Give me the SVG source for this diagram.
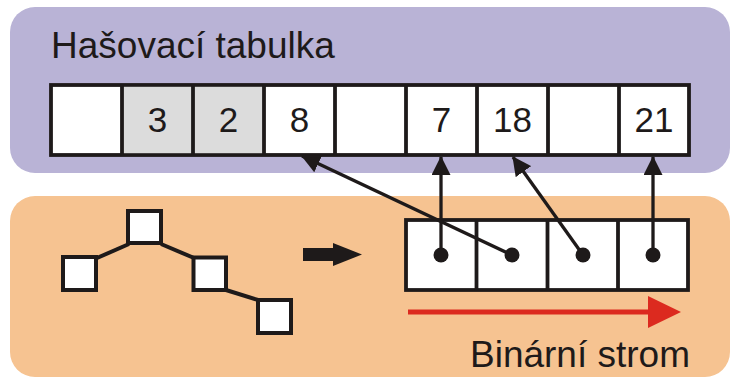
<svg xmlns="http://www.w3.org/2000/svg" width="732" height="378" viewBox="0 0 732 378">
<style>
.cell{fill:#ffffff;stroke:#1e1a1a;stroke-width:3.8}
.gray{fill:#dcdcdc}
.div{stroke:#1e1a1a;stroke-width:3.8}
.num{font-family:"Liberation Sans",Arial,sans-serif;font-size:35px;fill:#1e1a1a;text-anchor:middle}
.title{font-family:"Liberation Sans",Arial,sans-serif;font-size:37px;fill:#1e1a1a}
.tn{fill:#ffffff;stroke:#1e1a1a;stroke-width:4}
.te{stroke:#1e1a1a;stroke-width:4}
.conn{stroke:#1e1a1a;stroke-width:3.3;fill:none}
.dot{fill:#1e1a1a}
</style>
<defs>
<marker id="ah" markerUnits="userSpaceOnUse" markerWidth="19" markerHeight="19" viewBox="0 0 19 19" refX="18" refY="9.5" orient="auto">
<path d="M0,0 L19,9.5 L0,19 z" fill="#1e1a1a"/>
</marker>
</defs>
<g id="panel-hash">
<rect x="10" y="7" width="720" height="166" rx="25" fill="#b9b3d6"/>
<text class="title" x="51" y="58">Hašovací tabulka</text>
</g>
<g id="panel-tree">
<rect x="10" y="196" width="720" height="181" rx="25" fill="#f6c391"/>
<text class="title" x="690" y="367" text-anchor="end">Binární strom</text>
</g>
<g id="hash-table">
<rect class="cell" x="51" y="85" width="638" height="70"/>
<rect class="gray" x="122" y="86.9" width="142" height="66.2"/>
<line class="div" x1="122" y1="85" x2="122" y2="155"/>
<line class="div" x1="193" y1="85" x2="193" y2="155"/>
<line class="div" x1="264" y1="85" x2="264" y2="155"/>
<line class="div" x1="335" y1="85" x2="335" y2="155"/>
<line class="div" x1="406" y1="85" x2="406" y2="155"/>
<line class="div" x1="477" y1="85" x2="477" y2="155"/>
<line class="div" x1="548" y1="85" x2="548" y2="155"/>
<line class="div" x1="619" y1="85" x2="619" y2="155"/>
<text class="num" x="157.5" y="132">3</text>
<text class="num" x="228.5" y="132">2</text>
<text class="num" x="299.5" y="132">8</text>
<text class="num" x="441.5" y="132">7</text>
<text class="num" x="512.5" y="132">18</text>
<text class="num" x="654" y="132">21</text>
</g>
<g id="tree">
<line class="te" x1="97" y1="258" x2="129" y2="244"/>
<line class="te" x1="161" y1="244" x2="194" y2="258"/>
<line class="te" x1="226" y1="290" x2="258" y2="300"/>
<rect class="tn" x="128" y="211" width="33" height="32"/>
<rect class="tn" x="63" y="257" width="33" height="33"/>
<rect class="tn" x="193.5" y="257.5" width="32.5" height="32.5"/>
<rect class="tn" x="258" y="300" width="33" height="33"/>
</g>
<g id="transform-arrow">
<rect x="303" y="248" width="31" height="13" fill="#1e1a1a"/>
<polygon points="333,243 362,254.5 333,266" fill="#1e1a1a"/>
</g>
<g id="tree-array">
<rect class="cell" x="406" y="220" width="282" height="70"/>
<line class="div" x1="476.5" y1="220" x2="476.5" y2="290"/>
<line class="div" x1="547.5" y1="220" x2="547.5" y2="290"/>
<line class="div" x1="618" y1="220" x2="618" y2="290"/>
</g>
<g id="order-arrow">
<line x1="408" y1="312" x2="652" y2="312" stroke="#dc2a1f" stroke-width="5"/>
<polygon points="648,296 681,312 648,328" fill="#dc2a1f"/>
</g>
<g id="connectors">
<line class="conn" x1="441" y1="255" x2="441" y2="157" marker-end="url(#ah)"/>
<line class="conn" x1="512" y1="255" x2="302" y2="156" marker-end="url(#ah)"/>
<line class="conn" x1="583" y1="255" x2="513" y2="157" marker-end="url(#ah)"/>
<line class="conn" x1="653" y1="255" x2="653" y2="157" marker-end="url(#ah)"/>
<circle class="dot" cx="441" cy="255" r="7.5"/>
<circle class="dot" cx="512" cy="255" r="7.5"/>
<circle class="dot" cx="583" cy="255" r="7.5"/>
<circle class="dot" cx="653" cy="255" r="7.5"/>
</g>
</svg>
